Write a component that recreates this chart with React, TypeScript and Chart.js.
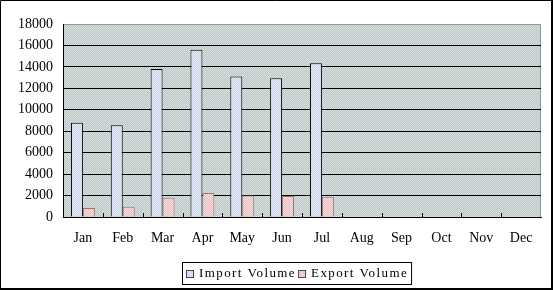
import React, { useEffect, useRef } from "react";
import { Chart, registerables } from "chart.js";

Chart.register(...registerables);

const months = ["Jan", "Feb", "Mar", "Apr", "May", "Jun", "Jul", "Aug", "Sep", "Oct", "Nov", "Dec"];
const importVolume = [8800, 8550, 13800, 15600, 13100, 12950, 14350, null, null, null, null, null];
const exportVolume = [850, 950, 1800, 2250, 2000, 1950, 1900, null, null, null, null, null];
const seriesNames = ["Import Volume", "Export Volume"];
const yMin = 0;
const yMax = 18000;
const yStep = 2000;

const SERIF = "'Liberation Serif', 'DejaVu Serif', serif";

function makePattern(ctx: CanvasRenderingContext2D, a: string, b: string) {
  const c = document.createElement("canvas");
  c.width = 2;
  c.height = 2;
  const g = c.getContext("2d")!;
  g.fillStyle = a;
  g.fillRect(0, 0, 2, 2);
  g.fillStyle = b;
  g.fillRect(0, 0, 1, 1);
  g.fillRect(1, 1, 1, 1);
  return ctx.createPattern(c, "repeat");
}

export default function App() {
  const ref = useRef<HTMLCanvasElement>(null);

  useEffect(() => {
    let chart: Chart | null = null;
    let cancelled = false;
    const canvas = ref.current!;
    const ctx = canvas.getContext("2d")!;
    const bgPattern = makePattern(ctx, "#bcc6c6", "#d8dfdf");
    const impPattern = makePattern(ctx, "#c8d6f0", "#e2eafa");
    const expPattern = makePattern(ctx, "#eec0c0", "#f8d8d8");

    const framePlugin = {
      id: "frame",
      beforeDraw(ch: any) {
        const c = ch.ctx;
        const a = ch.chartArea;
        c.save();
        c.fillStyle = "#ffffff";
        c.fillRect(0, 0, ch.width, ch.height);
        c.fillStyle = bgPattern;
        c.fillRect(a.left, a.top, a.right - a.left, a.bottom - a.top);
        c.strokeStyle = "#8e9898";
        c.lineWidth = 1;
        c.beginPath();
        c.moveTo(a.left, a.top + 0.5);
        c.lineTo(a.right - 0.5, a.top + 0.5);
        c.lineTo(a.right - 0.5, a.bottom);
        c.stroke();
        c.restore();
      },
      afterDraw(ch: any) {
        const c = ch.ctx;
        const xs = ch.scales.x;
        const a = ch.chartArea;
        c.save();
        c.strokeStyle = "#000";
        c.lineWidth = 1;
        c.beginPath();
        for (let i = 1; i < months.length; i++) {
          const x = Math.round(xs.getPixelForValue(i - 0.5)) + 0.5;
          c.moveTo(x, a.bottom);
          c.lineTo(x, a.bottom - 4);
        }
        c.stroke();
        // legend
        const colors = [impPattern, expPattern];
        c.font = "13px " + SERIF;
        (c as any).letterSpacing = "1.4px";
        c.textBaseline = "middle";
        const w0 = c.measureText(seriesNames[0]).width;
        const w1 = c.measureText(seriesNames[1]).width;
        const sw = 8;
        const gap = 5;
        const totalW = 3 + sw + gap + w0 + 2 + sw + gap + w1 + 4;
        const lx = 182;
        const ly = 262;
        c.strokeStyle = "#000";
        c.strokeRect(lx + 0.5, ly + 0.5, totalW, 22);
        let x = lx + 4;
        const cy = ly + 12;
        [w0, w1].forEach((w, i) => {
          c.fillStyle = colors[i];
          c.fillRect(x, cy - 4, sw, sw);
          c.strokeStyle = i === 0 ? "#404060" : "#604040";
          c.strokeRect(x + 0.5, cy - 3.5, sw - 1, sw - 1);
          x += sw + gap;
          c.fillStyle = "#000";
          c.fillText(seriesNames[i], x, cy);
          x += w + 2;
        });
        (c as any).letterSpacing = "0px";
        // outer border
        c.strokeStyle = "#000";
        c.lineWidth = 1;
        c.beginPath();
        c.moveTo(0.5, 289);
        c.lineTo(0.5, 0.5);
        c.lineTo(552, 0.5);
        c.stroke();
        c.lineWidth = 2;
        c.beginPath();
        c.moveTo(552, 0);
        c.lineTo(552, 289);
        c.lineTo(0, 289);
        c.stroke();
        c.restore();
      },
    };

    const build = () => {
      if (cancelled) return;
      chart = new Chart(canvas, {
        type: "bar",
        data: {
          labels: months,
          datasets: [
            {
              label: seriesNames[0],
              data: importVolume,
              backgroundColor: impPattern as any,
              borderColor: "#000",
              borderWidth: 1,
              categoryPercentage: 0.6,
              barPercentage: 1.0,
            },
            {
              label: seriesNames[1],
              data: exportVolume,
              backgroundColor: expPattern as any,
              borderColor: "#9a7070",
              borderWidth: 1,
              categoryPercentage: 0.6,
              barPercentage: 1.0,
            },
          ],
        },
        options: {
          animation: false,
          responsive: false,
          layout: { padding: { left: 0, right: 12, top: 24, bottom: 0 } },
          plugins: { legend: { display: false }, tooltip: { enabled: false } },
          scales: {
            x: {
              grid: { display: false, drawTicks: false },
              border: { display: true, color: "#000", width: 1 },
              ticks: {
                color: "#000",
                font: { family: SERIF, size: 14 },
                padding: 13,
                maxRotation: 0,
                autoSkip: false,
              },
              afterFit(scale: any) {
                scale.height = 73;
              },
            },
            y: {
              min: yMin,
              max: yMax,
              ticks: {
                stepSize: yStep,
                color: "#000",
                font: { family: SERIF, size: 14 },
                padding: 10,
                callback: (v: any) => String(v),
              },
              grid: {
                drawTicks: false,
                color: (c: any) => (c.tick && c.tick.value === yMax ? "rgba(0,0,0,0)" : "#000"),
                lineWidth: 1,
              },
              border: { display: true, color: "#000", width: 1 },
              afterFit(scale: any) {
                scale.width = 63;
              },
            },
          },
        },
        plugins: [framePlugin],
      });
    };

    const fontsApi = (document as any).fonts;
    if (fontsApi && fontsApi.load) {
      fontsApi.load("14px " + SERIF).catch(() => null).then(build);
    } else {
      build();
    }
    return () => {
      cancelled = true;
      if (chart) chart.destroy();
    };
  }, []);

  return (
    <div style={{ position: "absolute", left: 0, top: 0, width: 553, height: 290 }}>
      <canvas ref={ref} width={553} height={290} style={{ display: "block" }} />
    </div>
  );
}
